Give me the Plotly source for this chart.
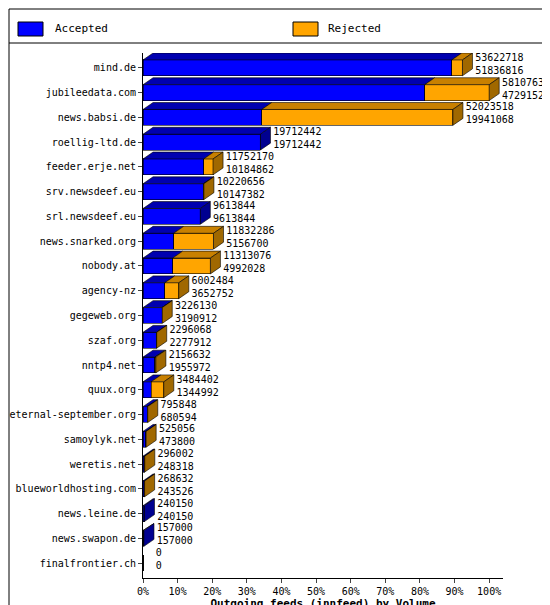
import plotly.graph_objects as go

hosts = ["mind.de", "jubileedata.com", "news.babsi.de", "roellig-ltd.de", "feeder.erje.net",
         "srv.newsdeef.eu", "srl.newsdeef.eu", "news.snarked.org", "nobody.at", "agency-nz",
         "gegeweb.org", "szaf.org", "nntp4.net", "quux.org", "eternal-september.org",
         "samoylyk.net", "weretis.net", "blueworldhosting.com", "news.leine.de",
         "news.swapon.de", "finalfrontier.ch"]
offered = [53622718, 58107630, 52023518, 19712442, 11752170, 10220656, 9613844, 11832286,
           11313076, 6002484, 3226130, 2296068, 2156632, 3484402, 795848, 525056, 296002,
           268632, 240150, 157000, 0]
accepted = [51836816, 47291526, 19941068, 19712442, 10184862, 10147382, 9613844, 5156700,
            4992028, 3652752, 3190912, 2277912, 1955972, 1344992, 680594, 473800, 248318,
            243526, 240150, 157000, 0]

FONT = "DejaVu Sans Mono"
n = len(hosts)
mx = max(offered)
acc_pct = [a / mx * 100 for a in accepted]
tot_pct = [o / mx * 100 for o in offered]
rej_pct = [t - a for t, a in zip(tot_pct, acc_pct)]
ys = [n - 1 - i for i in range(n)]
h = 0.32
dx, dy = 2.9, 0.28

fig = go.Figure()
fig.add_bar(y=ys, x=acc_pct, orientation="h", width=2 * h, marker_color="#0000ff",
            marker_line=dict(color="#000000", width=0.6), name="Accepted")
fig.add_bar(y=ys, x=rej_pct, orientation="h", width=2 * h, marker_color="#ffa500",
            marker_line=dict(color="#000000", width=0.6), name="Rejected")

def faces(pairs, top_color, side_color):
    tx, ty, sx, sy = [], [], [], []
    for a, b, y, last in pairs:
        if b - a <= 0:
            continue
        tx += [a, a + dx, b + dx, b, a, None]
        ty += [y + h, y + h + dy, y + h + dy, y + h, y + h, None]
        if last:
            sx += [b, b + dx, b + dx, b, b, None]
            sy += [y - h, y - h + dy, y + h + dy, y + h, y - h, None]
    for xx, yy, c in [(tx, ty, top_color), (sx, sy, side_color)]:
        fig.add_scatter(x=xx, y=yy, fill="toself", fillcolor=c, mode="lines",
                        line=dict(color="#000000", width=0.6), hoverinfo="skip", showlegend=False)

faces([(0, acc_pct[i], ys[i], rej_pct[i] < 1e-9) for i in range(n)], "#0000b0", "#000090")
faces([(acc_pct[i], tot_pct[i], ys[i], True) for i in range(n)], "#c88000", "#a06800")

fig.add_scatter(x=[t + dx + 0.8 for t in tot_pct], y=[y + 0.12 for y in ys], mode="text",
                text=[f"{o}<br>{a}" for o, a in zip(offered, accepted)], textposition="middle right",
                textfont=dict(family=FONT, size=10, color="#000000"), hoverinfo="skip",
                showlegend=False, cliponaxis=False)

fig.update_layout(
    width=550, height=605, margin=dict(l=135, r=55, t=45, b=35),
    paper_bgcolor="#ffffff", plot_bgcolor="#ffffff", barmode="stack", showlegend=False,
    font=dict(family=FONT, size=11, color="#000000"),
    xaxis=dict(range=[0, 104], tickvals=list(range(0, 101, 10)), automargin=False,
               ticktext=[f"{v}%" for v in range(0, 101, 10)], showgrid=False, zeroline=False,
               showline=True, linecolor="#000000", ticks="outside", ticklen=4,
               tickfont=dict(size=10), title=dict(text="<b>Outgoing feeds (innfeed) by Volume</b>",
                                                  standoff=0, font=dict(size=11))),
    yaxis=dict(range=[-0.6, n - 0.4], tickvals=ys, ticktext=hosts, showgrid=False, zeroline=False,
               automargin=False, showline=True, linecolor="#000000", ticks="outside", ticklen=4,
               tickfont=dict(size=10)),
    shapes=[
        dict(type="rect", xref="paper", yref="paper", x0=-134 / 360, x1=1 + 54 / 360, y0=-34 / 525, y1=1 + 44 / 525,
             line=dict(color="#000000", width=1)),
        dict(type="line", xref="paper", yref="paper", x0=-134 / 360, x1=1 + 54 / 360, y0=1 + 10 / 525, y1=1 + 10 / 525,
             line=dict(color="#000000", width=1)),
        dict(type="rect", xref="paper", yref="paper", x0=-125 / 360, x1=-100 / 360, y0=1 + 17 / 525, y1=1 + 31 / 525,
             fillcolor="#0000ff", line=dict(color="#000000", width=1)),
        dict(type="rect", xref="paper", yref="paper", x0=150 / 360, x1=175 / 360, y0=1 + 17 / 525, y1=1 + 31 / 525,
             fillcolor="#ffa500", line=dict(color="#000000", width=1)),
    ],
    annotations=[
        dict(xref="paper", yref="paper", x=-90 / 360, y=1 + 24 / 525, text="Accepted", showarrow=False,
             xanchor="left", yanchor="middle", font=dict(size=11)),
        dict(xref="paper", yref="paper", x=183 / 360, y=1 + 24 / 525, text="Rejected", showarrow=False,
             xanchor="left", yanchor="middle", font=dict(size=11)),
    ],
)
fig.write_html("out.html")
